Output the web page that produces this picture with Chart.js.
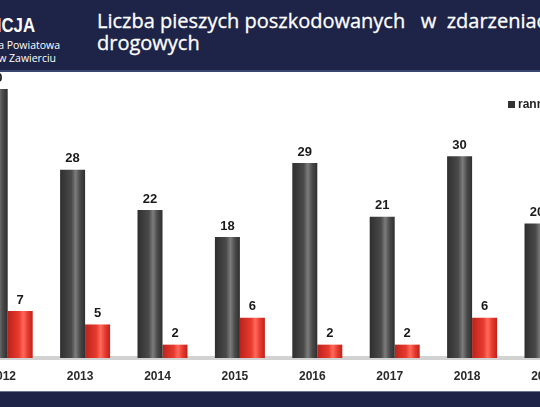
<!DOCTYPE html>
<html lang="pl">
<head>
<meta charset="utf-8">
<script src="https://cdn.jsdelivr.net/npm/chart.js@4/dist/chart.umd.min.js"></script>
<style>
  html, body { margin: 0; padding: 0; }
  body { width: 540px; height: 407px; overflow: hidden; position: relative; background: #fff; font-family: "Open Sans", Arial, sans-serif; }
  #header { position: absolute; left: 0; top: 0; width: 540px; height: 70px; background: #1e2447; border-bottom: 2px solid #3b4670; z-index: 2; overflow: hidden; }
  .logo { position: absolute; color: #fff; white-space: nowrap; text-align: right; }
  #logo-main { right: 505px; top: 13px; font: bold 21px Arial, "Liberation Sans", sans-serif; transform: scaleX(0.8); transform-origin: right center; }
  #logo-l1 { right: 480px; top: 38px; font: 10.5px "Open Sans", Arial, sans-serif; }
  #logo-l2 { right: 484px; top: 51px; font: 10.5px "Open Sans", Arial, sans-serif; }
  #title { position: absolute; left: 97px; top: 10px; color: #fff; font: 20px "Open Sans", Arial, sans-serif; line-height: 22px; white-space: nowrap; -webkit-text-stroke: 0.3px #fff; }
  #footer { position: absolute; left: 0; top: 391px; width: 540px; height: 16px; background: #1e2447; border-top: 1px solid #6b7596; z-index: 2; }
  #wrap { position: absolute; left: -31px; top: 72px; width: 661px; height: 332px; }
  #legend { position: absolute; left: 508px; top: 97px; display: flex; gap: 10px; white-space: nowrap; z-index: 1; }
  #legend span { display: inline-flex; align-items: center; gap: 3px; font: bold 12px Arial, "Liberation Sans", sans-serif; color: #222; }
  #legend i { display: inline-block; width: 7px; height: 7px; }
</style>
</head>
<body>
<div id="header">
  <div class="logo" id="logo-main">POLICJA</div>
  <div class="logo" id="logo-l1">Komenda Powiatowa</div>
  <div class="logo" id="logo-l2">Policji w Zawierciu</div>
  <div id="title">Liczba pieszych poszkodowanych&nbsp;&nbsp; w&nbsp; zdarzeniach<br>drogowych</div>
</div>
<div id="wrap"><canvas id="chart"></canvas></div>
<div id="legend"></div>
<div id="footer"></div>
<script>
/* ── data ────────────────────────────────────────────────── */

const years  = [2012, 2013, 2014, 2015, 2016, 2017, 2018, 2019];
const ranni  = [40, 28, 22, 18, 29, 21, 30, 20];
const zabici = [7, 5, 2, 6, 2, 2, 6, null];   // 2019 is outside the picture

/* ── look ────────────────────────────────────────────────── */

const CAT_PCT = 0.646;
const GRAY = { base: "#4a4a4a", light: "#7c7c7c", dark: "#2f2f2f", legend: "#333" };
const RED  = { base: "#e83a2f", light: "#ff6b5c", dark: "#bb231b", legend: "#e83a2f" };

function cylinder(col) {
  return ctx => {
    const chart = ctx.chart, xs = chart.scales.x;
    if (ctx.type !== "data" || !chart.chartArea || !xs) return col.base;
    const year = years[ctx.dataIndex];
    const cx   = xs.getPixelForValue(year);
    const w    = (xs.getPixelForValue(year + 1) - cx) * CAT_PCT / 2;
    const left = ctx.datasetIndex === 0 ? cx - w : cx;
    if (!isFinite(left)) return col.base;
    const g = chart.ctx.createLinearGradient(left, 0, left + w, 0);
    g.addColorStop(0,    col.dark);
    g.addColorStop(0.45, col.base);
    g.addColorStop(0.62, col.light);
    g.addColorStop(0.8,  col.base);
    g.addColorStop(1,    col.dark);
    return g;
  };
}

const valueLabels = {
  id: "valueLabels",
  afterDatasetsDraw(chart) {
    const c = chart.ctx;
    c.save();
    c.font = "bold 13px Arial, 'Liberation Sans', sans-serif";
    c.fillStyle = "#1a1a1a";
    c.textAlign = "center";
    c.textBaseline = "middle";
    chart.data.datasets.forEach((ds, i) => {
      chart.getDatasetMeta(i).data.forEach((el, j) => {
        const v = ds.values[j];
        if (v == null) return;
        c.fillText(String(v), el.x, el.y - 11);
      });
    });
    c.restore();
  },
};

/* ── chart ───────────────────────────────────────────────── */

const series = [
  { label: "ranni",  values: ranni,  col: GRAY },
  { label: "zabici", values: zabici, col: RED },
];

const chart = new Chart(document.getElementById("chart"), {
  type: "bar",
  data: {
    datasets: series.map(s => ({
      label: s.label,
      values: s.values,
      data: years.map((y, i) => ({ x: y, y: s.values[i] })),
      backgroundColor: cylinder(s.col),
    })),
  },
  plugins: [valueLabels],
  options: {
    responsive: true,
    maintainAspectRatio: false,
    animation: false,
    layout: { padding: { top: 17, bottom: 9.5, left: 0, right: 0 } },
    datasets: { bar: { categoryPercentage: CAT_PCT, barPercentage: 1 } },
    plugins: {
      legend: { display: false },
      tooltip: { enabled: false },
    },
    scales: {
      x: {
        type: "linear",
        offset: false,
        min: 2011.5,
        max: 2020.04,
        afterBuildTicks: s => { s.ticks = years.map(v => ({ value: v })); },
        grid: { display: false, drawTicks: false, offset: false },
        border: { display: true, color: "#d2d2d2", width: 4 },
        ticks: {
          padding: 11,
          labelOffset: -5,
          color: "#2a2a2a",
          autoSkip: false,
          maxRotation: 0,
          font: { family: "Arial", weight: "bold", size: 12 },
          callback: v => String(v),
        },
      },
      y: { display: false, min: 0, max: 40 },
    },
  },
});

/* ── legend ──────────────────────────────────────────────── */

document.getElementById("legend").innerHTML = series
  .map(s => `<span><i style="background:${s.col.legend}"></i>${s.label}</span>`)
  .join("");
</script>
</body>
</html>
